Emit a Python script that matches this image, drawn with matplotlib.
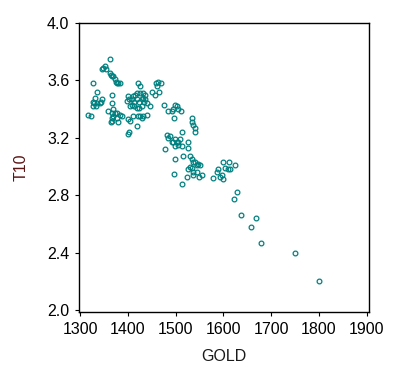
import numpy as np
import matplotlib.pyplot as plt

plt.rcParams['font.family'] = ['Liberation Sans', 'DejaVu Sans']

# GOLD vs T10
gold = [1363, 1352, 1348, 1354, 1346, 1363, 1365, 1367, 1369, 1373,
        1375, 1377, 1384, 1380, 1327, 1336, 1367, 1331, 1327, 1329,
        1327, 1334, 1342, 1344, 1346, 1336, 1367, 1317, 1323, 1359,
        1367, 1369, 1373, 1377, 1369, 1367, 1365, 1367, 1377, 1384,
        1388, 1380, 1398, 1403, 1409, 1401, 1411, 1415, 1419, 1426,
        1432, 1436, 1432, 1430, 1424, 1419, 1413, 1409, 1405, 1413,
        1419, 1424, 1430, 1434, 1436, 1440, 1447, 1401, 1405, 1411,
        1421, 1430, 1426, 1432, 1440, 1419, 1403, 1401, 1421, 1426,
        1459, 1463, 1470, 1461, 1465, 1457, 1451, 1476, 1484,
        1499, 1503, 1495, 1493, 1505, 1511, 1497, 1534, 1534, 1537,
        1541, 1541, 1482, 1484, 1488, 1493, 1495, 1499, 1503, 1505,
        1509, 1505, 1499, 1514, 1514, 1526, 1526, 1478, 1516, 1499,
        1530, 1534, 1537, 1541, 1545, 1547, 1551, 1530, 1534, 1526,
        1537, 1545, 1549, 1555, 1537, 1524, 1497, 1514,
        1599, 1612, 1624, 1604, 1614, 1610, 1589, 1587, 1597, 1578,
        1593, 1599, 1629, 1622, 1637, 1668, 1658, 1679, 1750, 1800]
t10 = [3.75, 3.70, 3.69, 3.68, 3.68, 3.65, 3.64, 3.63, 3.63, 3.61,
       3.59, 3.58, 3.58, 3.58, 3.58, 3.52, 3.50, 3.48, 3.45, 3.44,
       3.42, 3.42, 3.44, 3.45, 3.47, 3.44, 3.44, 3.36, 3.35, 3.39,
       3.37, 3.40, 3.37, 3.37, 3.35, 3.34, 3.31, 3.32, 3.34, 3.36,
       3.35, 3.31, 3.46, 3.47, 3.47, 3.49, 3.49, 3.50, 3.51, 3.51,
       3.51, 3.50, 3.48, 3.47, 3.45, 3.47, 3.45, 3.43, 3.42, 3.42,
       3.41, 3.41, 3.42, 3.45, 3.47, 3.44, 3.42, 3.33, 3.32, 3.35,
       3.35, 3.34, 3.35, 3.35, 3.36, 3.28, 3.24, 3.23, 3.58, 3.56,
       3.58, 3.59, 3.58, 3.56, 3.52, 3.50, 3.52, 3.43, 3.39,
       3.43, 3.42, 3.40, 3.39, 3.40, 3.39, 3.34, 3.34, 3.31, 3.29,
       3.27, 3.24, 3.22, 3.20, 3.21, 3.17, 3.17, 3.19, 3.17, 3.17,
       3.19, 3.15, 3.14, 3.14, 3.24, 3.17, 3.13, 3.12, 3.07, 3.05,
       3.07, 3.05, 3.03, 3.03, 3.01, 3.02, 3.01, 3.00, 2.99, 2.98,
       2.96, 2.96, 2.93, 2.94, 2.94, 2.93, 2.95, 2.88,
       3.03, 3.03, 3.01, 2.99, 2.98, 2.98, 2.98, 2.96, 2.94, 2.92,
       2.93, 2.91, 2.82, 2.77, 2.66, 2.64, 2.58, 2.47, 2.40, 2.20]

fig = plt.figure(figsize=(3.97, 3.79), dpi=100)
ax = fig.add_axes([0.199, 0.177, 0.730, 0.762])

ax.plot(gold, t10, 'o', linestyle='none', markersize=3.4,
        markerfacecolor='none', markeredgecolor='#008080', markeredgewidth=0.9)

ax.set_xlim(1297.9, 1904.2)
ax.set_ylim(1.986, 4.0)
ax.set_xticks(np.arange(1300, 1901, 100))
ax.set_yticks([2.0, 2.4, 2.8, 3.2, 3.6, 4.0])
ax.set_yticklabels(['2.0', '2.4', '2.8', '3.2', '3.6', '4.0'])

ax.tick_params(direction='out', length=3, width=0.8, labelsize=11.5,
               pad=4, colors='black')
for s in ax.spines.values():
    s.set_linewidth(1.0)

ax.set_xlabel('GOLD', fontsize=11.5, color='#1a1a1a', labelpad=9)
ax.set_ylabel('T10', fontsize=11.5, color='#5a1414', labelpad=13)

fig.savefig('out.png', dpi=100)
